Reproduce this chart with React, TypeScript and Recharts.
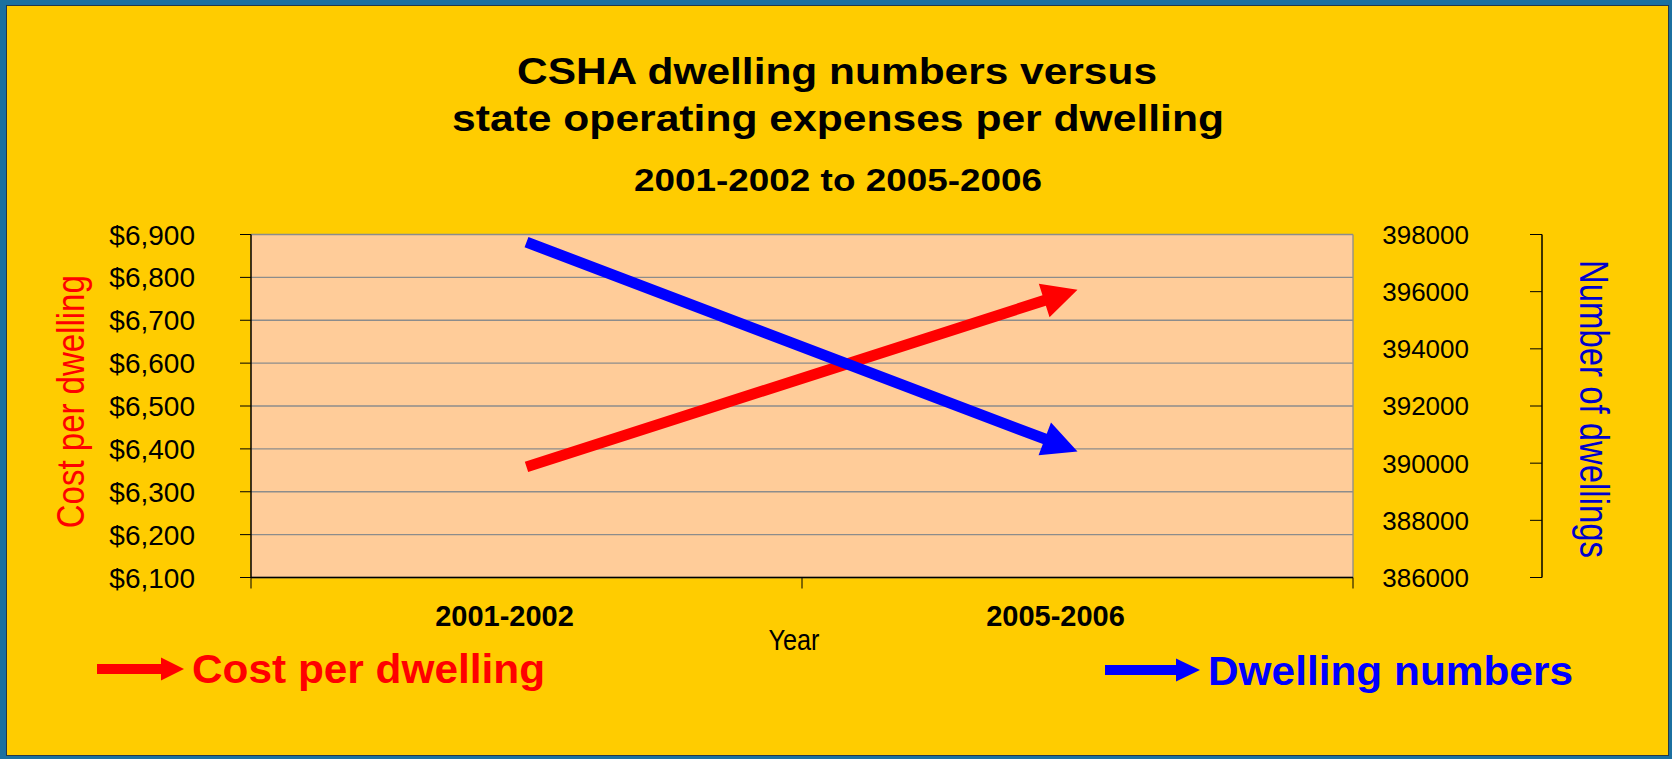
import React from 'react';
import { LineChart, Line, XAxis, YAxis, CartesianGrid } from 'recharts';

// ---- data ----
const categories = ['2001-2002', '2005-2006'];
const costPerDwelling = [6358, 6771];
const dwellingNumbers = [397733, 390412];
const costTicks = [6100, 6200, 6300, 6400, 6500, 6600, 6700, 6800, 6900];
const dwellingTicks = [386000, 388000, 390000, 392000, 394000, 396000, 398000];

const data = categories.map((c, i) => ({
  year: c,
  cost: costPerDwelling[i],
  dwellings: dwellingNumbers[i],
}));

const FONT = '"Liberation Sans", Arial, Helvetica, sans-serif';
const RED = '#FF0000';
const BLUE = '#0000FF';

function makeArrowDot(color: string) {
  return (props: any) => {
    const { index, points } = props;
    if (!points || index !== points.length - 1 || index < 1) {
      return <g key={`dot-${color}-${index}`} />;
    }
    const p0 = points[0];
    const p1 = points[index];
    const dx = p1.x - p0.x;
    const dy = p1.y - p0.y;
    const len = Math.hypot(dx, dy) || 1;
    const ux = dx / len;
    const uy = dy / len;
    const nx = -uy;
    const ny = ux;
    const headLen = 35;
    const headHalf = 17.5;
    const shaftHalf = 5.5;
    const bx = p1.x - ux * headLen;
    const by = p1.y - uy * headLen;
    const pts = [
      [p0.x + nx * shaftHalf, p0.y + ny * shaftHalf],
      [bx + nx * shaftHalf, by + ny * shaftHalf],
      [bx + nx * headHalf, by + ny * headHalf],
      [p1.x, p1.y],
      [bx - nx * headHalf, by - ny * headHalf],
      [bx - nx * shaftHalf, by - ny * shaftHalf],
      [p0.x - nx * shaftHalf, p0.y - ny * shaftHalf],
    ];
    return (
      <polygon
        key={`dot-${color}-${index}`}
        points={pts.map((p) => p.join(',')).join(' ')}
        fill={color}
        stroke="none"
      />
    );
  };
}

const CatTick = (props: any) => {
  const { x, y, payload, width, visibleTicksCount, index } = props;
  const band = width && visibleTicksCount ? width / visibleTicksCount : 0;
  return (
    <g>
      {band > 0 && (
        <line x1={x - band / 2} x2={x - band / 2} y1={y} y2={y + 11} stroke="#000" strokeWidth={1} />
      )}
      {band > 0 && index === visibleTicksCount - 1 && (
        <line x1={x + band / 2} x2={x + band / 2} y1={y} y2={y + 11} stroke="#000" strokeWidth={1} />
      )}
      <text
        x={x - 22}
        y={y + 48.5}
        textAnchor="middle"
        fontFamily={FONT}
        fontWeight="bold"
        fontSize={29}
        fill="#000"
      >
        {payload.value}
      </text>
    </g>
  );
};

const RightTick = (props: any) => {
  const { x, y, payload } = props;
  return (
    <text
      x={x + 104}
      y={y}
      dy="0.36em"
      textAnchor="end"
      fontFamily={FONT}
      fontSize={26}
      fill="#000"
    >
      {String(payload.value)}
    </text>
  );
};

const LeftTick = (props: any) => {
  const { x, y, payload } = props;
  return (
    <text
      x={x}
      y={y}
      dy="0.36em"
      textAnchor="end"
      fontFamily={FONT}
      fontSize={28}
      fill="#000"
    >
      {'$' + Number(payload.value).toLocaleString('en-US')}
    </text>
  );
};

export default function App() {
  return (
    <div style={{ position: 'absolute', left: 0, top: 0, width: 1672, height: 759, background: '#1B70A0', overflow: 'hidden' }}>
      <div
        style={{
          position: 'absolute',
          left: 6,
          top: 5,
          width: 1661,
          height: 749,
          background: '#FFCC00',
          border: '1px solid #24384a',
        }}
      />
      <div style={{ position: 'absolute', left: 0, top: 0 }}>
        <LineChart
          width={1672}
          height={759}
          data={data}
          margin={{ top: 234.5, right: 119, bottom: 121.5, left: 0 }}
        >
          <CartesianGrid
            xAxisId="cat"
            yAxisId="left"
            fill="#FFCC99"
            stroke="#8c8c8c"
            strokeWidth={1.3}
            horizontal={true}
            vertical={true}
            verticalCoordinatesGenerator={(args: any) => [args.offset.left + args.offset.width]}
          />
          <XAxis
            xAxisId="cat"
            dataKey="year"
            type="category"
            scale="band"
            axisLine={{ stroke: '#000', strokeWidth: 1.5 }}
            tickLine={false}
            tickSize={0}
            tickMargin={0}
            height={60}
            tick={<CatTick />}
          />
          <YAxis
            yAxisId="left"
            orientation="left"
            width={251}
            domain={[6100, 6900]}
            ticks={costTicks}
            allowDataOverflow
            tickSize={11}
            tickMargin={45}
            axisLine={{ stroke: '#000', strokeWidth: 1.5 }}
            tickLine={{ stroke: '#000', strokeWidth: 1 }}
            tick={<LeftTick />}
          />
          <YAxis
            yAxisId="right"
            orientation="right"
            width={200}
            domain={[386000, 398000]}
            ticks={dwellingTicks}
            allowDataOverflow
            tickSize={12}
            tickMargin={0}
            axisLine={{ stroke: '#000', strokeWidth: 1.5, transform: 'translate(189,0)' }}
            tickLine={{ stroke: '#000', strokeWidth: 1, transform: 'translate(177,0)' }}
            tick={<RightTick />}
          />
          <Line
            xAxisId="cat"
            yAxisId="left"
            dataKey="cost"
            stroke="none"
            strokeWidth={11}
            dot={makeArrowDot(RED)}
            activeDot={false}
            isAnimationActive={false}
          />
          <Line
            xAxisId="cat"
            yAxisId="right"
            dataKey="dwellings"
            stroke="none"
            strokeWidth={11}
            dot={makeArrowDot(BLUE)}
            activeDot={false}
            isAnimationActive={false}
          />
        </LineChart>
      </div>
      <svg
        width={1672}
        height={759}
        style={{ position: 'absolute', left: 0, top: 0, pointerEvents: 'none' }}
      >
        <g fontFamily={FONT} fontWeight="bold" fill="#000" textAnchor="middle">
          <text x={837} y={84} fontSize={36} textLength={640} lengthAdjust="spacingAndGlyphs">
            CSHA dwelling numbers versus
          </text>
          <text x={838} y={130.5} fontSize={36} textLength={772} lengthAdjust="spacingAndGlyphs">
            state operating expenses per dwelling
          </text>
          <text x={838} y={190.5} fontSize={31} textLength={408} lengthAdjust="spacingAndGlyphs">
            2001-2002 to 2005-2006
          </text>
        </g>
        <text
          transform="translate(84,401.7) rotate(-90)"
          textAnchor="middle"
          fontFamily={FONT}
          fontSize={38}
          fill={RED}
          textLength={253}
          lengthAdjust="spacingAndGlyphs"
        >
          Cost per dwelling
        </text>
        <text
          transform="translate(1580,409) rotate(90)"
          textAnchor="middle"
          fontFamily={FONT}
          fontSize={41}
          fill="#0000CC"
          textLength={298}
          lengthAdjust="spacingAndGlyphs"
        >
          Number of dwellings
        </text>
        <text
          x={794}
          y={650}
          textAnchor="middle"
          fontFamily={FONT}
          fontSize={29}
          fill="#000"
          textLength={51}
          lengthAdjust="spacingAndGlyphs"
        >
          Year
        </text>
        <g>
          <rect x={97} y={664} width={65} height={10} fill={RED} />
          <polygon points="161,657.5 184,669 161,680.5" fill={RED} />
          <text x={192} y={683} fontFamily={FONT} fontWeight="bold" fontSize={40} fill={RED} textLength={353} lengthAdjust="spacingAndGlyphs">
            Cost per dwelling
          </text>
          <rect x={1105} y={665} width={72} height={10} fill={BLUE} />
          <polygon points="1176,658.5 1200,670 1176,681.5" fill={BLUE} />
          <text x={1208} y={685} fontFamily={FONT} fontWeight="bold" fontSize={41} fill={BLUE} textLength={365} lengthAdjust="spacingAndGlyphs">
            Dwelling numbers
          </text>
        </g>
      </svg>
    </div>
  );
}
